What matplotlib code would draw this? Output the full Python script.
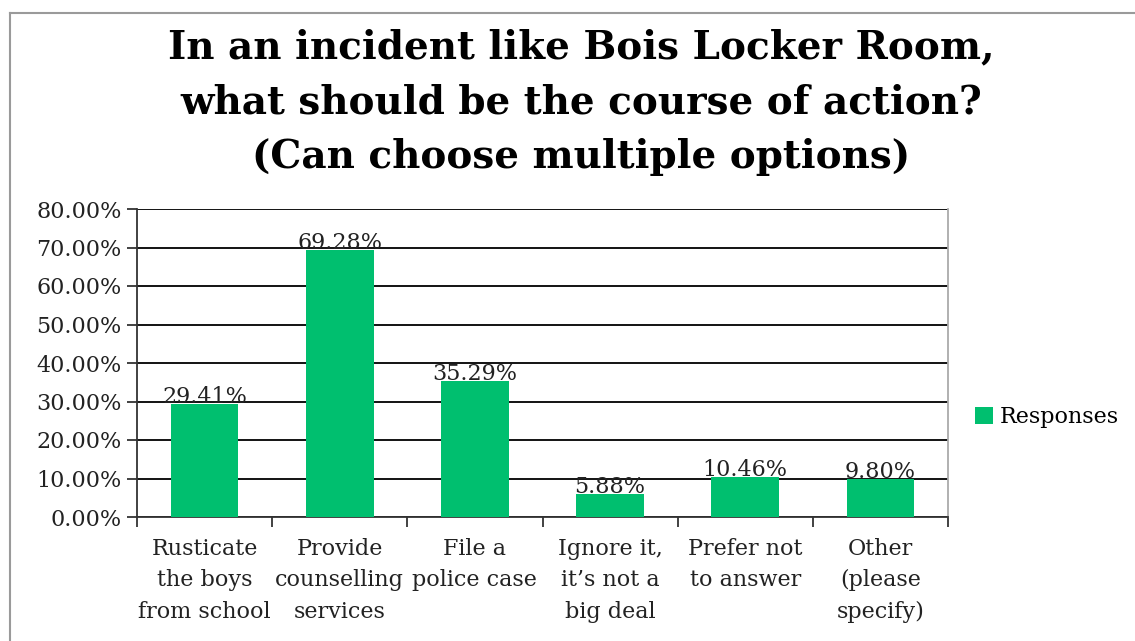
import matplotlib
matplotlib.use("Agg")
from matplotlib import pyplot as plt
from matplotlib.lines import Line2D
from matplotlib.ticker import MultipleLocator, FuncFormatter

# survey results
categories = ["Rusticate\nthe boys\nfrom school",
              "Provide\ncounselling\nservices",
              "File a\npolice case",
              "Ignore it,\nit\u2019s not a\nbig deal",
              "Prefer not\nto answer",
              "Other\n(please\nspecify)"]
responses = [29.41, 69.28, 35.29, 5.88, 10.46, 9.80]
title = ("In an incident like Bois Locker Room,\n"
         "what should be the course of action?\n"
         "(Can choose multiple options)")

GREEN = "#00BF6F"
W, H = 1135, 641
plt.rcParams['font.family'] = ['DejaVu Serif']

fig = plt.figure(figsize=(W / 100, H / 100), dpi=100)

# outer chart frame (runs off the right and bottom edges)
fig.add_artist(Line2D([10 / W, 10 / W], [0, 1 - 13 / H], transform=fig.transFigure,
                      color="#9a9a9a", lw=1.5))
fig.add_artist(Line2D([10 / W, 1], [1 - 13 / H, 1 - 13 / H], transform=fig.transFigure,
                      color="#9a9a9a", lw=1.5))

fig.text(581 / W, 1 - 102 / H, title, ha="center", va="center",
         fontsize=28, fontweight="bold", linespacing=1.55)

ax = fig.add_axes([137 / W, 1 - 517 / H, (948 - 137) / W, (517 - 209) / H])
x = list(range(len(categories)))
bars = ax.bar(x, responses, width=0.5, color=GREEN, zorder=3, label="Responses")

ax.set_xlim(-0.5, len(categories) - 0.5)
ax.set_ylim(0, 80)
ax.yaxis.set_major_locator(MultipleLocator(10))
ax.yaxis.set_major_formatter(FuncFormatter(lambda v, p: f"{v:.2f}%"))
ax.grid(axis="y", color="black", lw=1.3, zorder=1)
ax.set_axisbelow(True)

for b, v in zip(bars, responses):
    ax.text(b.get_x() + b.get_width() / 2, v - 1.0, f"{v:.2f}%", ha="center",
            va="bottom", fontsize=16, color="#222222", zorder=4)

ax.set_xticks([i - 0.5 for i in range(len(categories) + 1)], minor=False)
ax.set_xticklabels([])
ax.set_xticks(x, minor=True)
ax.set_xticklabels(categories, minor=True, fontsize=16, linespacing=1.55,
                   color="#222222")
ax.tick_params(axis="x", which="minor", length=0, pad=15)
ax.tick_params(axis="x", which="major", length=7, width=1.3, color="#333333")
ax.tick_params(axis="y", length=7, width=1.3, color="#333333", labelsize=16,
               labelcolor="#222222", pad=4)

for s in ["left", "bottom"]:
    ax.spines[s].set_color("#333333")
    ax.spines[s].set_linewidth(1.3)
ax.spines["top"].set_visible(False)
ax.spines["right"].set_color("#aaaaaa")
ax.spines["right"].set_linewidth(1.3)

fig.legend(handles=[bars], labels=["Responses"], loc="center left",
           bbox_to_anchor=(955 / W, 1 - 417 / H), frameon=False, fontsize=16,
           handlelength=0.8, handleheight=0.8, handletextpad=0.3)

fig.savefig("out.png", dpi=100)
